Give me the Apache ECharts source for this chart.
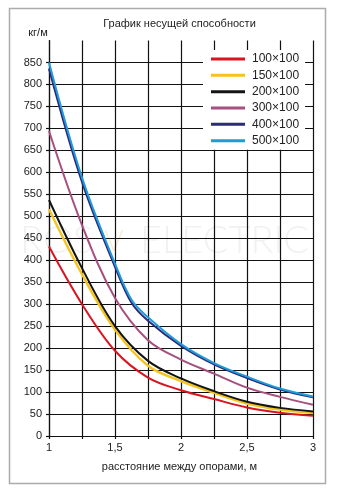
<!DOCTYPE html>
<html><head><meta charset="utf-8">
<script src="https://cdn.jsdelivr.net/npm/echarts@6/dist/echarts.min.js"></script>
<style>html,body{margin:0;padding:0;background:#fff}#c{width:341px;height:490px}</style>
</head><body><div id="c"></div>
<script>
// distances between supports, m
const distances = [1, 1.25, 1.5, 1.75, 2, 2.25, 2.5, 2.75, 3];
const distancesWide = [1, 1.25, 1.5, 1.625, 1.75, 2, 2.25, 2.5, 2.75, 3];
const seriesNames = ['100×100', '150×100', '200×100', '300×100', '400×100', '500×100'];
// load capacity, kg/m
const load100 = [431, 300, 194, 133, 104, 84, 65, 53, 46];
const load150 = [516, 368, 242, 160, 125, 98, 74, 60, 52];
const load200 = [537, 382, 250, 171, 131, 102, 78, 64, 56];
const load300 = [694, 480, 314, 218, 174, 142, 110, 89, 71];
const load400 = [836, 578, 385, 303, 262, 205, 163, 132, 106, 88];
const load500 = [850, 588, 392, 310, 270, 209, 166, 135, 108, 90];
const xTickLabels = {1: '1', 1.5: '1,5', 2: '2', 2.5: '2,5', 3: '3'};
const colors = ['#d9141e', '#f4c41c', '#141414', '#a6507f', '#2b2a7c', '#1f9bd8'];

const FONT = '"Liberation Sans", Arial, sans-serif';
const pairs = (xs, ys) => xs.map((x, i) => [x, ys[i]]);
const seriesData = [
  pairs(distances, load100),
  pairs(distances, load150),
  pairs(distances, load200),
  pairs(distances, load300),
  pairs(distancesWide, load400),
  pairs(distancesWide, load500)
];

const chart = echarts.init(document.getElementById('c'), null, {renderer: 'canvas'});
chart.setOption({
  backgroundColor: '#fff',
  animation: false,
  color: colors,
  grid: {left: 49, right: 28, top: 40.5, bottom: 54, containLabel: false},
  graphic: [
    {type: 'rect', shape: {x: 9.5, y: 8.5, width: 316, height: 475}, style: {fill: 'none', stroke: '#ababab', lineWidth: 1.5}, z: -10},
    {type: 'text', x: 20, y: 241, style: {text: 'ROS', font: '300 38px Lato, sans-serif', fill: '#f1f1f1', verticalAlign: 'middle'}, z: -5},
    {type: 'text', x: 104, y: 241, style: {text: 'V', font: '300 30px Lato, sans-serif', fill: '#fbe9d2', verticalAlign: 'middle'}, z: -5},
    {type: 'text', x: 140, y: 241, style: {text: 'ELECTRIC', font: '300 38px Lato, sans-serif', fill: '#f1f1f1', verticalAlign: 'middle'}, z: -5},
    {type: 'text', x: 179.5, y: 24, style: {text: 'График несущей способности', font: '11px ' + FONT, fill: '#222', align: 'center', verticalAlign: 'middle'}},
    {type: 'text', x: 38, y: 33, style: {text: 'кг/м', font: '11px ' + FONT, fill: '#222', align: 'center', verticalAlign: 'middle'}},
    {type: 'text', x: 179.5, y: 467, style: {text: 'расстояние между опорами, м', font: '11px ' + FONT, fill: '#222', align: 'center', verticalAlign: 'middle'}}
  ],
  legend: {
    orient: 'vertical', left: 203, top: 50,
    backgroundColor: '#fff',
    padding: [1, 6, 1, 8],
    icon: 'rect', itemWidth: 34, itemHeight: 3, itemGap: 0.33,
    textStyle: {fontFamily: FONT, fontSize: 12, color: '#222', lineHeight: 16, padding: [0, 0, 0, 2]},
    data: seriesNames
  },
  xAxis: {
    type: 'value', min: 1, max: 3, interval: 0.25,
    axisLine: {show: true, lineStyle: {color: '#111', width: 1.2}},
    axisTick: {show: true, length: 3, lineStyle: {color: '#111', width: 1.2}},
    splitLine: {show: true, lineStyle: {color: '#111', width: 1.2}},
    axisLabel: {
      margin: 6, fontFamily: FONT, fontSize: 11, color: '#222',
      formatter: v => xTickLabels[Math.round(v * 100) / 100] || ''
    }
  },
  yAxis: {
    type: 'value', min: 0, max: 900, interval: 50,
    axisLine: {show: true, lineStyle: {color: '#111', width: 1.2}},
    axisTick: {show: true, length: 3, lineStyle: {color: '#111', width: 1.2}},
    splitLine: {show: true, showMaxLine: false, lineStyle: {color: '#111', width: 1.2}},
    axisLabel: {margin: 7, fontFamily: FONT, fontSize: 11, color: '#222', showMaxLabel: false}
  },
  series: seriesNames.map((name, i) => ({
    name, type: 'line', data: seriesData[i],
    smooth: 0.35, showSymbol: false, symbol: 'none',
    lineStyle: {width: i === 1 ? 2.4 : 2, color: colors[i]},
    itemStyle: {color: colors[i]},
    z: 3 + i
  }))
});
</script></body></html>
